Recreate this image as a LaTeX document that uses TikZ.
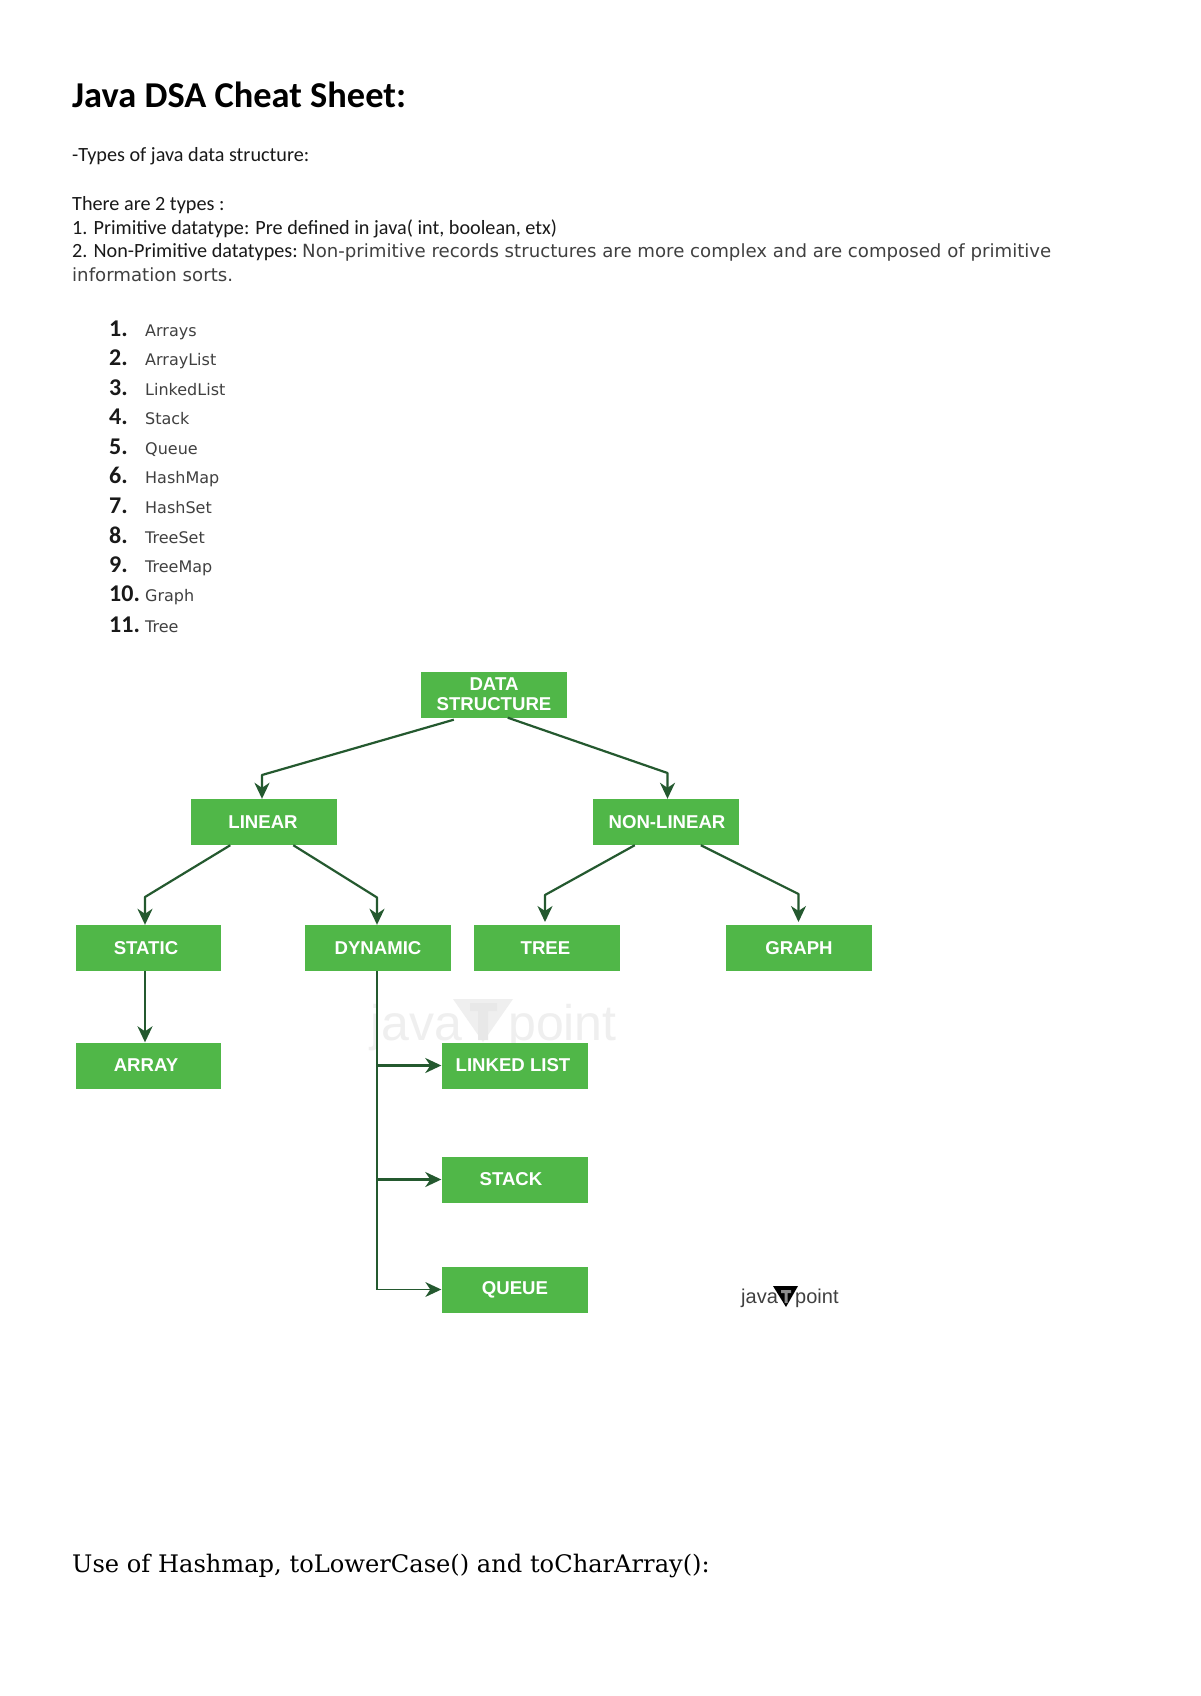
\documentclass[tikz,border=0pt]{standalone}
\usepackage{fontspec}
\setmainfont{DejaVu Sans}
\newfontfamily\calfont{Carlito}
\newfontfamily\serfont{DejaVu Serif}
\newfontfamily\boxfont{Liberation Sans}
\usetikzlibrary{calc,arrows.meta}
\definecolor{boxgreen}{HTML}{50B748}
\definecolor{linegreen}{HTML}{24592F}
\definecolor{wm}{HTML}{EFEFEF}
\definecolor{wmdark}{HTML}{E8E8E8}
\tikzset{
  gbox/.style={fill=boxgreen,draw=none,minimum width=146pt,minimum height=46pt,inner sep=0pt,align=center,text=white,font=\boxfont\bfseries\fontsize{18.6}{20}\selectfont},
  conn/.style={draw=linegreen,line width=2.2pt,line join=round,-{Stealth[length=16pt,width=15pt,inset=5pt]}},
  plain/.style={draw=linegreen,line width=2.2pt},
  txt/.style={anchor=base west,inner sep=0pt,font=\calfont\fontsize{20.2}{24}\selectfont,text=black!90},
  para/.style={anchor=base west,inner sep=0pt,font=\fontsize{18.15}{22}\selectfont,text=black!75},
  num/.style={anchor=base west,inner sep=0pt,font=\calfont\bfseries\fontsize{24}{26}\selectfont,text=black!90},
  item/.style={anchor=base west,inner sep=0pt,font=\fontsize{16}{18}\selectfont,text=black!75}
}
\begin{document}
\begin{tikzpicture}[x=1pt,y=-1pt]
\useasboundingbox (0,0) rectangle (1200,1696);
\fill[white] (0,0) rectangle (1200,1696);
% text
\node[txt,font=\calfont\bfseries\fontsize{36.4}{40}\selectfont,text=black] (title) at (72,108) {Java DSA Cheat Sheet:};
\node[txt] (t1) at (72,162) {-Types of java data structure:};
\node[txt] (t2) at (72,211) {There are 2 types :};
\node[txt] (t3) at (72,235) {1. Primitive datatype: Pre defined in java( int, boolean, etx)};
\node[txt] (t4) at (72,258) {2. Non-Primitive datatypes:};
\node[para] (t5) at (302,258) {Non-primitive records structures are more complex and are composed of primitive};
\node[para] (t6) at (72,281) {information sorts.};
% list
\foreach \n/\yy/\lab in {1/336/Arrays,2/365/ArrayList,3/395/LinkedList,4/424/Stack,5/454/Queue,6/483/HashMap,7/513/HashSet,8/543/TreeSet,9/572/TreeMap,10/601/Graph,11/632/Tree}{
  \node[num] (n\n) at (109,\yy) {\n.};
  \node[item] (i\n) at (145,\yy) {\lab};
}
% watermark
\node[anchor=base west,inner sep=0pt,text=wm,font=\boxfont\fontsize{50}{54}\selectfont] (wm1) at (370,1040) {java};
\fill[wm] (453,999) -- (513,999) -- (483,1042) -- cycle;
\fill[wmdark] (470,1003) -- (497,1003) -- (497,1011) -- (488,1011) -- (488,1040) -- (478,1040) -- (478,1011) -- (470,1011) -- cycle;
\node[anchor=base west,inner sep=0pt,text=wm,font=\boxfont\fontsize{50}{54}\selectfont] (wm2) at (508,1040) {point};
% boxes
\node[gbox] (ds) at (494,694.5) {DATA\\STRUCTURE};
\node[gbox] (lin) at (263.5,822) {\hspace*{-1pt}LINEAR};
\node[gbox] (nl) at (666,822) {\hspace*{2pt}NON-LINEAR};
\node[gbox,minimum width=145pt] (st) at (148,948) {\hspace*{-4pt}STATIC};
\node[gbox] (dy) at (377.5,948) {\hspace*{1pt}DYNAMIC};
\node[gbox] (tr) at (547,948) {\hspace*{-3pt}TREE};
\node[gbox] (gr) at (799,948) {GRAPH};
\node[gbox,minimum width=145pt] (ar) at (148,1065.5) {\hspace*{-4pt}ARRAY};
\node[gbox] (ll) at (514.5,1065.5) {\hspace*{-3pt}LINKED LIST};
\node[gbox] (sk) at (514.5,1179.5) {\hspace*{-7pt}STACK};
\node[gbox] (qu) at (514.5,1289.5) {\hspace*{1pt}QUEUE};
% bends
\coordinate (b1) at (262,775);
\coordinate (b2) at (667.5,773);
\coordinate (b3) at (145,897);
\coordinate (b4) at (377,897.5);
\coordinate (b5) at (545,895);
\coordinate (b6) at (798.5,894);
\coordinate (e5) at (545,922);
\coordinate (e6) at (798.5,922);
% connectors
\draw[conn] ($(ds.south west)+(33,2)$) -- (b1) -- (b1 |- lin.north);
\draw[conn] ($(ds.south west)+(87,0)$) -- (b2) -- (b2 |- nl.north);
\draw[conn] ($(lin.south west)+(40,0)$) -- (b3) -- (b3 |- st.north);
\draw[conn] ($(lin.south west)+(103,0)$) -- (b4) -- (b4 |- dy.north);
\draw[conn] ($(nl.south west)+(42,0)$) -- (b5) -- (e5);
\draw[conn] ($(nl.south west)+(108,0)$) -- (b6) -- (e6);
\draw[conn] (b3 |- st.south) -- (b3 |- ar.north);
\coordinate (dyb) at (b4 |- qu.west);
\draw[plain] (b4 |- dy.south) -- (dyb);
\draw[conn] (b4 |- ll.west) -- (ll.west);
\draw[conn] (b4 |- sk.west) -- (sk.west);
\draw[conn,line width=1pt,-{Stealth[length=16pt,width=15pt,inset=5pt,line width=0pt]}] (dyb) -- (qu.west);
% logo
\node[anchor=base west,inner sep=0pt,text=black!75,font=\boxfont\fontsize{20}{22}\selectfont] (lg1) at (741,1303) {java};
\fill[black] (773,1286) -- (798,1286) -- (786,1307) -- cycle;
\fill[black!45] (781,1290) -- (791,1290) -- (791,1293) -- (787.5,1293) -- (787.5,1303) -- (784.5,1303) -- (784.5,1293) -- (781,1293) -- cycle;
\node[anchor=base west,inner sep=0pt,text=black!75,font=\boxfont\fontsize{20}{22}\selectfont] (lg2) at (795,1303) {point};
% footer
\node[anchor=base west,inner sep=0pt,text=black,font=\serfont\fontsize{24.15}{28}\selectfont] (foot) at (72,1572) {Use of Hashmap, toLowerCase() and toCharArray():};
\end{tikzpicture}
\end{document}
